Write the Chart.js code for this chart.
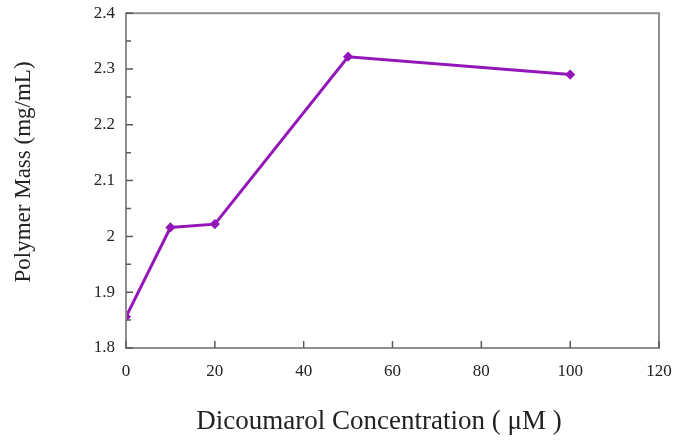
<!DOCTYPE html>
<html>
<head>
<meta charset="utf-8">
<script src="https://cdn.jsdelivr.net/npm/chart.js@4.4.1/dist/chart.umd.min.js"></script>
<style>
html,body{margin:0;padding:0;background:#fff;}
#wrap{width:674px;height:441px;position:relative;}
</style>
</head>
<body>
<div id="wrap"><canvas id="c" width="674" height="441"></canvas></div>
<script>
const concentrations = [0, 10, 20, 50, 100];
const polymerMass = [1.856, 2.016, 2.022, 2.322, 2.290];
const xTickValues = [0, 20, 40, 60, 80, 100, 120];
const yTickValues = [1.8, 1.9, 2.0, 2.1, 2.2, 2.3, 2.4];
const yMinorValues = [1.85, 1.95, 2.05, 2.15, 2.25, 2.35];

const frameColor = '#8e8e8e';
const tickColor = '#5a5a5a';
const lineColor = 'rgb(148,22,185)';

const frame = {
  id: 'frame',
  afterDraw(chart) {
    const {ctx, chartArea: a, scales} = chart;
    ctx.save();
    ctx.strokeStyle = frameColor;
    ctx.lineWidth = 2;
    ctx.strokeRect(a.left, a.top, a.right - a.left, a.bottom - a.top);
    ctx.strokeStyle = tickColor;
    ctx.lineWidth = 1.5;
    ctx.beginPath();
    yTickValues.forEach(v => {
      const y = scales.y.getPixelForValue(v);
      ctx.moveTo(a.left, y); ctx.lineTo(a.left + 7, y);
    });
    yMinorValues.forEach(v => {
      const y = scales.y.getPixelForValue(v);
      ctx.moveTo(a.left, y); ctx.lineTo(a.left + 5, y);
    });
    xTickValues.forEach(v => {
      const x = scales.x.getPixelForValue(v);
      ctx.moveTo(x, a.bottom); ctx.lineTo(x, a.bottom - 7);
    });
    ctx.stroke();
    ctx.restore();
  }
};

new Chart(document.getElementById('c'), {
  type: 'line',
  data: {
    datasets: [{
      data: concentrations.map((x, i) => ({x, y: polymerMass[i]})),
      borderColor: lineColor,
      backgroundColor: lineColor,
      borderWidth: 3,
      pointStyle: 'rectRot',
      pointRadius: 3,
      tension: 0
    }]
  },
  options: {
    responsive: false,
    animation: false,
    layout: {padding: {left: 0, right: 15, top: -2, bottom: 0}},
    plugins: {legend: {display: false}, tooltip: {enabled: false}},
    scales: {
      x: {
        type: 'linear', min: 0, max: 120,
        afterBuildTicks: s => { s.ticks = xTickValues.map(v => ({value: v})); },
        afterFit: s => { s.height = 93; s.paddingLeft = 0; s.paddingRight = 0; },
        grid: {display: false},
        border: {display: false},
        ticks: {padding: 5, color: '#222', font: {family: 'Liberation Serif', size: 17}},
        title: {display: true, text: 'Dicoumarol Concentration ( μM )\u00A0\u00A0\u00A0\u00A0', color: '#222',
                font: {family: 'Liberation Serif', size: 27}, padding: {top: 0, bottom: 3}}
      },
      y: {
        type: 'linear', min: 1.8, max: 2.4,
        afterBuildTicks: s => { s.ticks = yTickValues.map(v => ({value: v})); },
        afterFit: s => { s.width = 126; },
        grid: {display: false},
        border: {display: false},
        ticks: {padding: 3, color: '#222', font: {family: 'Liberation Serif', size: 17},
                callback: v => String(parseFloat(Number(v).toFixed(1)))},
        title: {display: true, text: '\u00A0\u00A0\u00A0Polymer Mass (mg/mL)', color: '#222',
                font: {family: 'Liberation Serif', size: 23}, padding: {top: 10, bottom: 0}}
      }
    }
  },
  plugins: [frame]
});
</script>
</body>
</html>
